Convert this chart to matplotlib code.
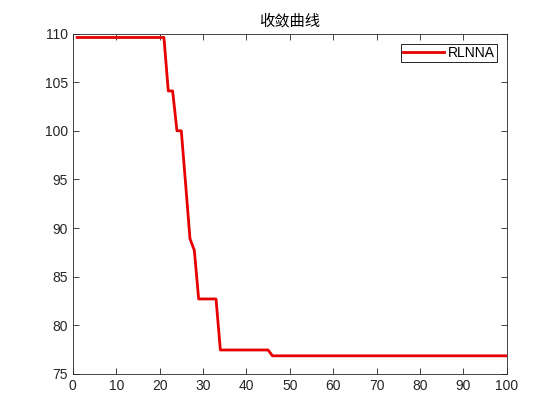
import matplotlib
matplotlib.use('Agg')
import matplotlib.pyplot as plt

# step breakpoints: (last iteration of the level, value)
level_ends = [21, 23, 25, 26, 27, 28, 33, 45, 100]
level_vals = [109.6, 104.1, 100.0, 94.5, 88.9, 87.7, 82.7, 77.45, 76.85]

iters = list(range(1, 101))
best = []
start = 1
for end, v in zip(level_ends, level_vals):
    best += [v] * (end - start + 1)
    start = end + 1

plt.rcParams['font.family'] = ['Liberation Sans', 'Noto Sans CJK SC', 'DejaVu Sans']
plt.rcParams['axes.unicode_minus'] = False

fig = plt.figure(figsize=(5.6, 4.2), dpi=100)
ax = fig.add_axes([0.13, 0.11, 0.775, 0.81])
ax.plot(iters, best, color=(0.9, 0.0, 0.0), lw=2, label="RLNNA")

ax.set_xlim(0, 100)
ax.set_ylim(75, 110)
ax.set_xticks(range(0, 101, 10))
ax.set_yticks(range(75, 111, 5))
ax.tick_params(direction='in', top=True, right=True, length=4, width=0.6,
               labelsize=10, colors=(0.15, 0.15, 0.15))
for s in ax.spines.values():
    s.set_color((0.15, 0.15, 0.15))
    s.set_linewidth(0.6)

ax.set_title("收敛曲线", fontsize=11, family=['Noto Sans CJK SC', 'DejaVu Sans'], pad=6)
leg = ax.legend(loc='upper right', fontsize=10, fancybox=False, framealpha=1,
                edgecolor='black', handlelength=2.9, handletextpad=0.3,
                borderpad=0.15, borderaxespad=0.72)
leg.get_frame().set_linewidth(0.6)

fig.savefig("out.png", dpi=100)
